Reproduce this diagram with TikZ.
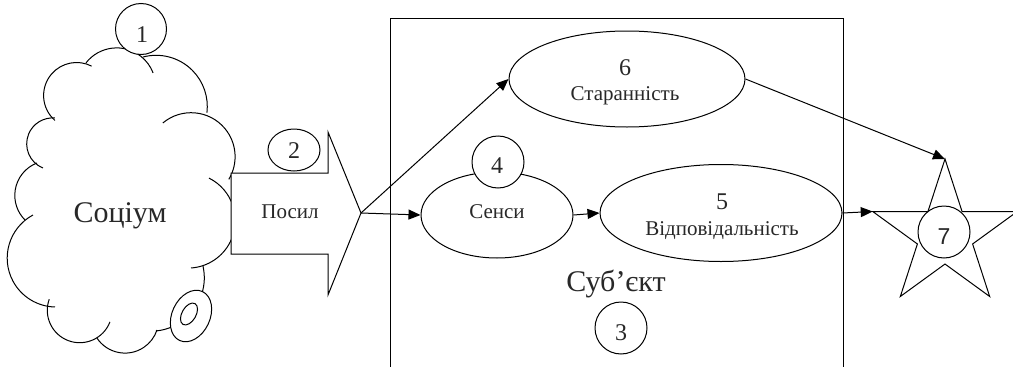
\documentclass[tikz,border=0pt]{standalone}
\usepackage{fontspec}
\setmainfont{Liberation Serif}
\newfontfamily\sansf{Liberation Sans}
\usetikzlibrary{shapes.geometric,arrows.meta}
\definecolor{textc}{RGB}{40,40,40}
\newcommand\cloudpuff[5]{\draw ([shift={(#4:#3)}]#1,#2) arc[start angle=#4,end angle=#5,radius=#3];}
\begin{document}
\begin{tikzpicture}[x=1pt,y=-1pt,line width=1pt,
  txt/.style={text=textc,inner sep=0pt},
  num/.style={txt,font=\fontsize{24}{24}\selectfont},
  lbl/.style={txt,font=\fontsize{21}{21}\selectfont},
  big/.style={txt,font=\fontsize{30}{30}\selectfont},
  badge/.style={draw,fill=white,circle,minimum size=52pt,inner sep=0pt},
  oval/.style={draw,fill=white,ellipse,inner sep=0pt},
  arr/.style={-{Triangle[length=12pt,width=10pt]}}
]
\useasboundingbox (0,0) rectangle (1013,367);
\clip (0,0) rectangle (1013,367);

% cloud (Соціум)
\cloudpuff{76.6}{95.5}{33}{131}{297}
\cloudpuff{116.7}{86.9}{39}{218}{339}
\cloudpuff{156.1}{106.5}{51.2}{255}{367}
\cloudpuff{191.1}{156.7}{44}{230}{391}
\cloudpuff{187.8}{220.6}{47.5}{-63.5}{86.1}
\cloudpuff{150.9}{277.8}{53.4}{-12.8}{84.5}
\cloudpuff{125}{319.4}{33.7}{146.4}{18.4}
\cloudpuff{79.7}{310.3}{32.4}{200}{21}
\cloudpuff{56.1}{258.1}{48.9}{241.8}{91.3}
\cloudpuff{49.6}{195.4}{34.8}{248.7}{135}
\cloudpuff{52.7}{143.9}{26}{112}{275}
\draw[fill=white,rotate around={-25:(191,316)}] (191,316) ellipse [x radius=19pt,y radius=27pt];
\draw[rotate around={-30:(189,314)}] (189,314) ellipse [x radius=7pt,y radius=12pt];
\node[big,anchor=base] (soc) at (120,222) {Соціум};
\node[badge,minimum size=51pt] (c1) at (141,29) {};
\node[num,anchor=base] at (142,42) {1};

% subject frame
\draw (390,380) -- (390,18) -- (843,18) -- (843,380);

% message arrow (Посил)
\coordinate (tip) at (361,213);
\draw[fill=white] (231,173) -- (328,173) -- (328,132) -- (tip) -- (328,295) -- (328,254) -- (231,254) -- cycle;
\node[lbl,anchor=base] (pos) at (290,218) {Посил};
\node[draw,fill=white,ellipse,minimum width=52pt,minimum height=42pt,inner sep=0pt] (c2) at (294,150) {};
\node[num,anchor=base] at (294,158) {2};

% ellipses
\node[oval,minimum width=236pt,minimum height=96pt] (e6) at (627,79) {};
\node[num,anchor=base] at (625,75) {6};
\node[lbl,anchor=base] at (625,100) {Старанність};

\node[oval,minimum width=152pt,minimum height=86pt] (sen) at (497,215) {};
\node[badge] (c4) at (498,162) {};
\node[num,anchor=base] at (497,173) {4};
\node[lbl,anchor=base] at (497,218) {Сенси};

\node[oval,minimum width=242pt,minimum height=97pt] (e5) at (721,213) {};
\node[num,anchor=base] at (722,209) {5};
\node[lbl,anchor=base] at (722,235) {Відповідальність};

\node[big,anchor=base] (subj) at (616,291) {Суб’єкт};
\node[badge] (c3) at (621,328) {};
\node[num,anchor=base] at (621,340) {3};

% star
\node[draw,star,star points=5,star point ratio=2.618,minimum size=152pt,inner sep=0pt,outer sep=0pt] (star) at (945,235) {};
\node[badge] (c7) at (944,232) {};
\node[txt,font=\sansf\fontsize{23}{23}\selectfont,anchor=base] at (944,244) {7};

% connectors
\draw[arr] (tip) -- (e6.west);
\draw[arr] (tip) -- (sen.west);
\draw[arr] (sen.east) -- (e5.west);
\draw[arr] (e6.east) -- (star.outer point 1);
\draw[arr] (e5.east) -- (star.outer point 2);
\end{tikzpicture}
\end{document}
